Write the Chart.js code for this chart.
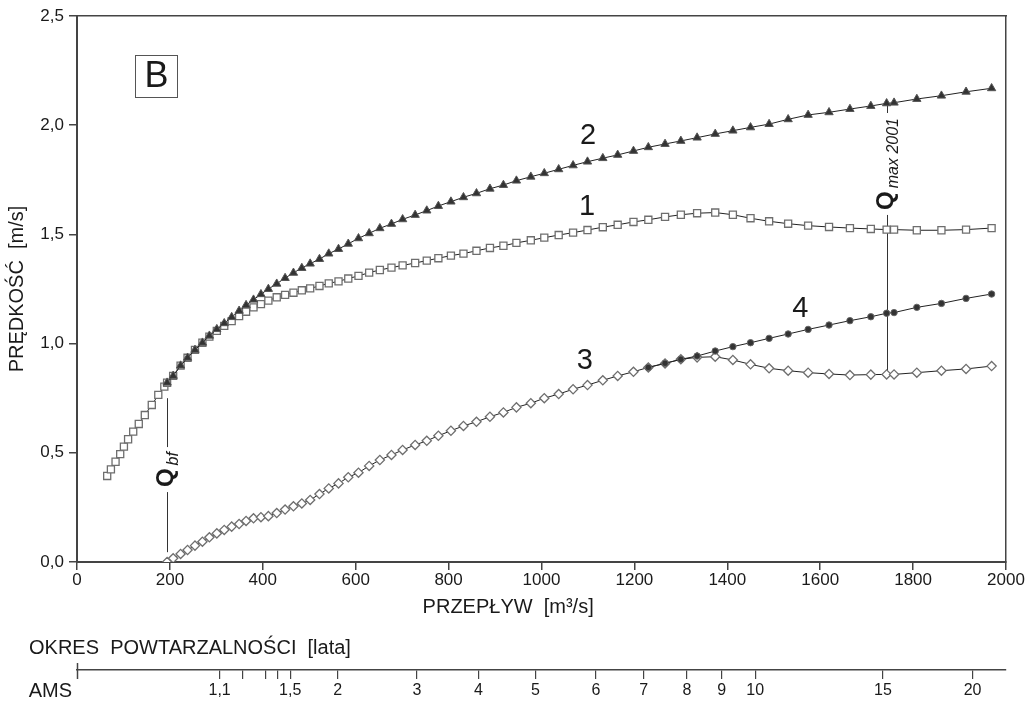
<!DOCTYPE html>
<html>
<head>
<meta charset="utf-8">
<script src="https://cdn.jsdelivr.net/npm/chart.js@4.4.1/dist/chart.umd.min.js"></script>
<style>
	body { margin: 0; background: #fff; }
	#wrap { width: 1036px; height: 702px; }
</style>
</head>
<body>
<div id="wrap"><canvas id="myChart"></canvas></div>
<script>
// discharge [m3/s] shared by all curves
var flow = [
	65, 73, 83, 93, 101, 110, 121, 133, 146, 161, 175, 188, 194, 207, 223, 238, 254, 270, 285,
	301, 317, 333, 349, 364, 380, 396, 412, 430, 448, 466, 484, 502, 522, 542, 563, 584, 606,
	629, 652, 677, 701, 728, 753, 778, 805, 832, 860, 889, 918, 946, 977, 1006, 1037, 1068, 1099,
	1132, 1164, 1198, 1230, 1266, 1300, 1335, 1374, 1412, 1450, 1490, 1531, 1574, 1619, 1664,
	1709, 1743, 1759, 1808, 1861, 1914, 1969,
];

// velocity [m/s]; each curve starts at its own index in flow
var start1 = 0;
var speed1 = [
	0.394, 0.424, 0.459, 0.494, 0.528, 0.562, 0.597, 0.632, 0.673, 0.719, 0.765, 0.803, 0.821,
	0.852, 0.899, 0.935, 0.971, 1.004, 1.032, 1.058, 1.081, 1.103, 1.126, 1.146, 1.166, 1.181,
	1.197, 1.212, 1.223, 1.233, 1.244, 1.253, 1.264, 1.276, 1.285, 1.298, 1.310, 1.325, 1.337,
	1.348, 1.358, 1.369, 1.380, 1.391, 1.403, 1.412, 1.425, 1.438, 1.448, 1.461, 1.473, 1.485,
	1.497, 1.508, 1.520, 1.533, 1.544, 1.557, 1.567, 1.580, 1.590, 1.597, 1.600, 1.590, 1.574,
	1.560, 1.549, 1.540, 1.534, 1.529, 1.525, 1.522, 1.522, 1.519, 1.519, 1.522, 1.529,
];
var start2 = 12;
var speed2 = [
	0.821, 0.852, 0.899, 0.935, 0.971, 1.004, 1.036, 1.066, 1.093, 1.121, 1.150, 1.176, 1.201,
	1.226, 1.250, 1.274, 1.300, 1.324, 1.346, 1.366, 1.387, 1.412, 1.433, 1.457, 1.482, 1.505,
	1.528, 1.548, 1.569, 1.589, 1.609, 1.630, 1.650, 1.670, 1.688, 1.709, 1.726, 1.746, 1.764,
	1.780, 1.798, 1.816, 1.833, 1.849, 1.864, 1.882, 1.899, 1.914, 1.928, 1.943, 1.960, 1.975,
	1.990, 2.005, 2.027, 2.047, 2.059, 2.074, 2.088, 2.100, 2.103, 2.120, 2.135, 2.153, 2.169,
];
var start3 = 12;
var speed3 = [
	0.000, 0.017, 0.037, 0.055, 0.075, 0.093, 0.113, 0.131, 0.147, 0.162, 0.174, 0.188, 0.200,
	0.205, 0.210, 0.224, 0.240, 0.255, 0.268, 0.284, 0.311, 0.337, 0.360, 0.388, 0.409, 0.440,
	0.467, 0.490, 0.513, 0.536, 0.555, 0.578, 0.601, 0.623, 0.642, 0.665, 0.685, 0.708, 0.727,
	0.750, 0.769, 0.791, 0.810, 0.832, 0.852, 0.871, 0.891, 0.909, 0.928, 0.937, 0.940, 0.925,
	0.905, 0.887, 0.876, 0.867, 0.861, 0.856, 0.858, 0.859, 0.859, 0.867, 0.876, 0.884, 0.897,
];
var start4 = 58;
var speed4 = [
	0.891, 0.910, 0.928, 0.943, 0.966, 0.986, 1.004, 1.024, 1.044, 1.065, 1.085, 1.105, 1.123,
	1.139, 1.142, 1.166, 1.184, 1.207, 1.227,
];

// curve numbers written on the plot
var curveNames = ["1", "2", "3", "4"];
var nameFlow = [1098, 1100, 1093, 1557];
var nameSpeed = [1.624, 1.951, 0.92, 1.158];

// marked discharges: bankfull and 2001 peak
var markFlow = [194, 1743];
var markFrom = [0.045, 0.87];
var markTo = [0.75, 2.095];
var markTextAt = [0.343, 1.612];
var markSub = ["bf", "max 2001"];

// return period axis (AMS)
var periodFlow = [307, 356, 405, 432, 459, 561, 732, 864, 987, 1117, 1220, 1313, 1388, 1460, 1735, 1928];
var periodLabels = ["1,1", "", "", "", "1,5", "2", "3", "4", "5", "6", "7", "8", "9", "10", "15", "20"];

var FONT = '"Liberation Sans", Arial, sans-serif';
var INK = "#1a1a1a";
var AXIS = "#444";

Chart.defaults.font.family = FONT;
Chart.defaults.color = INK;

function points(start, values) {
	return values.map(function (v, i) {
		return { x: flow[start + i], y: v };
	});
}

var extras = {
	id: "extras",
	beforeDatasetsDraw: function (chart) {
		var ctx = chart.ctx;
		var x = chart.scales.x;
		var y = chart.scales.y;
		ctx.save();
		ctx.strokeStyle = "#333";
		ctx.lineWidth = 1;
		markFlow.forEach(function (q, i) {
			var px = Math.round(x.getPixelForValue(q)) + 0.5;
			ctx.font = "bold 24px " + FONT;
			var len = ctx.measureText("Q").width + 3;
			ctx.font = "italic 16px " + FONT;
			len += ctx.measureText(markSub[i]).width;
			var ty = y.getPixelForValue(markTextAt[i]);
			ctx.beginPath();
			ctx.moveTo(px, y.getPixelForValue(markFrom[i]));
			ctx.lineTo(px, ty + 5);
			ctx.moveTo(px, ty - len - 5);
			ctx.lineTo(px, y.getPixelForValue(markTo[i]));
			ctx.stroke();
		});
		ctx.restore();
	},
	afterDraw: function (chart) {
		var ctx = chart.ctx;
		var x = chart.scales.x;
		var y = chart.scales.y;
		var xT = chart.scales.xT;
		var area = chart.chartArea;
		ctx.save();
		ctx.fillStyle = INK;

		// rotated Q labels
		markFlow.forEach(function (q, i) {
			var px = Math.round(x.getPixelForValue(q)) + 0.5;
			ctx.save();
			ctx.translate(px + 5, y.getPixelForValue(markTextAt[i]));
			ctx.rotate(-Math.PI / 2);
			ctx.textAlign = "left";
			ctx.textBaseline = "alphabetic";
			ctx.font = "bold 24px " + FONT;
			var wq = ctx.measureText("Q").width;
			ctx.fillText("Q", 0, 0);
			ctx.font = "italic 16px " + FONT;
			ctx.fillText(markSub[i], wq + 3, 5);
			ctx.restore();
		});

		// curve numbers
		ctx.font = "29px " + FONT;
		ctx.textAlign = "center";
		ctx.textBaseline = "middle";
		curveNames.forEach(function (n, i) {
			ctx.fillText(n, x.getPixelForValue(nameFlow[i]), y.getPixelForValue(nameSpeed[i]));
		});

		// panel letter
		ctx.strokeStyle = "#555";
		ctx.lineWidth = 1;
		ctx.strokeRect(area.left + 58.5, area.top + 39.5, 42, 42);
		ctx.font = "36px " + FONT;
		ctx.fillText("B", area.left + 79.5, area.top + 61);

		// return period axis caption
		ctx.font = "20px " + FONT;
		ctx.textAlign = "left";
		ctx.fillText("OKRES  POWTARZALNOŚCI  [lata]", 29, xT.top - 22);
		ctx.textAlign = "right";
		ctx.fillText("AMS", 72, xT.top + 21);
		ctx.strokeStyle = AXIS;
		ctx.lineWidth = 1.5;
		ctx.beginPath();
		ctx.moveTo(xT.left + 0.5, xT.top - 7);
		ctx.lineTo(xT.left + 0.5, xT.top + 9);
		ctx.stroke();
		ctx.restore();
	},
};

new Chart("myChart", {
	type: "line",
	data: {
		datasets: [
			{
				data: points(start1, speed1),
				order: 2,
				borderColor: "#222",
				borderWidth: 1,
				pointStyle: "rect",
				pointRadius: 5,
				pointBackgroundColor: "#fff",
				pointBorderColor: "#6e6e6e",
				pointBorderWidth: 1.3,
			},
			{
				data: points(start2, speed2),
				order: 1,
				borderColor: "#222",
				borderWidth: 1,
				pointStyle: "triangle",
				pointRadius: 4.8,
				pointBackgroundColor: "#333",
				pointBorderColor: "#555",
				pointBorderWidth: 1,
			},
			{
				data: points(start3, speed3),
				order: 4,
				borderColor: "#222",
				borderWidth: 1,
				pointStyle: "rectRot",
				pointRadius: 4.6,
				pointBackgroundColor: "#fff",
				pointBorderColor: "#6e6e6e",
				pointBorderWidth: 1.3,
			},
			{
				data: points(start4, speed4),
				order: 3,
				borderColor: "#222",
				borderWidth: 1,
				pointStyle: "circle",
				pointRadius: 3.2,
				pointBackgroundColor: "#333",
				pointBorderColor: "#666",
				pointBorderWidth: 1,
			},
		],
	},
	options: {
		responsive: true,
		maintainAspectRatio: false,
		animation: false,
		layout: { padding: { top: 16, right: 30, bottom: 0, left: 0 } },
		plugins: { legend: { display: false }, tooltip: { enabled: false } },
		scales: {
			x: {
				type: "linear",
				position: "bottom",
				weight: 0,
				min: 0,
				max: 2000,
				afterFit: function (s) { s.height = 108; },
				ticks: {
					stepSize: 200,
					padding: 0,
					maxRotation: 0,
					font: { size: 17 },
					color: INK,
					callback: function (v) { return String(v); },
				},
				grid: { drawOnChartArea: false, tickLength: 8, color: AXIS, lineWidth: 1.5 },
				border: { color: AXIS, width: 2 },
				title: {
					display: true,
					// trailing spaces move the centred title left, as in the original
					text: "PRZEPŁYW  [m³/s]            ",
					font: { size: 20 },
					color: INK,
					padding: { top: 0, bottom: 51 },
				},
			},
			xT: {
				type: "linear",
				position: "bottom",
				weight: 1,
				min: 0,
				max: 2000,
				afterFit: function (s) { s.height = 32; },
				afterBuildTicks: function (s) {
					s.ticks = periodFlow.map(function (q) { return { value: q }; });
				},
				ticks: {
					autoSkip: false,
					maxRotation: 0,
					padding: 2,
					font: { size: 16 },
					color: INK,
					callback: function (v, i) { return periodLabels[i]; },
				},
				grid: { drawOnChartArea: false, tickLength: 9, color: AXIS, lineWidth: 1.2 },
				border: { color: AXIS, width: 1.5 },
			},
			x2: {
				type: "linear",
				position: "top",
				min: 0,
				max: 2000,
				afterFit: function (s) { s.height = 0; },
				ticks: { display: false },
				grid: { display: false },
				border: { color: AXIS, width: 1.5 },
			},
			y: {
				type: "linear",
				position: "left",
				min: 0,
				max: 2.5,
				afterFit: function (s) { s.width = 77; },
				ticks: {
					stepSize: 0.5,
					padding: 5,
					font: { size: 17 },
					color: INK,
					callback: function (v) { return v.toFixed(1).replace(".", ","); },
				},
				grid: { drawOnChartArea: false, tickLength: 8, color: AXIS, lineWidth: 1.5 },
				border: { color: AXIS, width: 2 },
				title: {
					display: true,
					text: "PRĘDKOŚĆ  [m/s]",
					font: { size: 20 },
					color: INK,
					padding: { top: 5, bottom: 0 },
				},
			},
			y2: {
				type: "linear",
				position: "right",
				min: 0,
				max: 2.5,
				afterFit: function (s) { s.width = 0; },
				ticks: { display: false },
				grid: { display: false },
				border: { color: AXIS, width: 1.5 },
			},
		},
	},
	plugins: [extras],
});
</script>
</body>
</html>
